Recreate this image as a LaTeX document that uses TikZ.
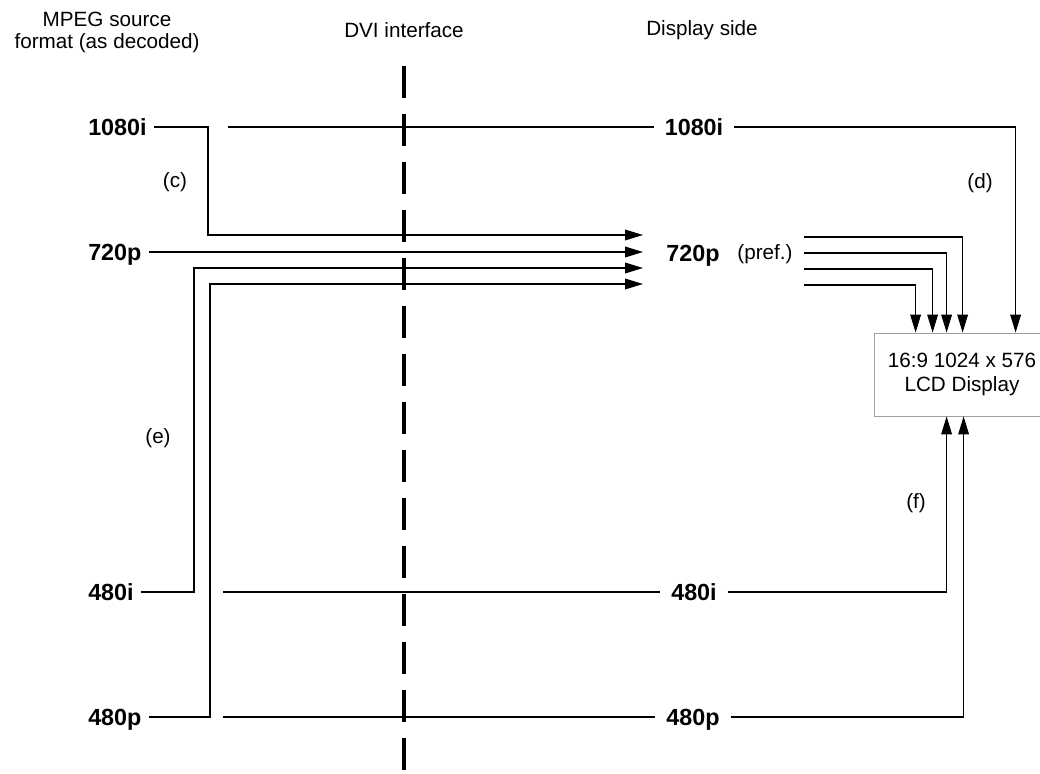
\documentclass[tikz,border=0pt]{standalone}
\usepackage{fontspec}
\setmainfont{Liberation Sans}
\usetikzlibrary{arrows.meta,calc}
\tikzset{
  conn/.style={line width=0.9pt},
  arr/.style={conn,-{Triangle[length=13.5pt,width=8pt]}},
  dvi/.style={line width=2.6pt,dash pattern=on 24pt off 12pt},
  fmt/.style={font=\fontsize{17.5}{18}\selectfont\bfseries,text height=12.6pt,text depth=0pt,inner ysep=0pt},
  srcfmt/.style={fmt,anchor=west,inner xsep=5.25pt},
  midfmt/.style={fmt,inner xsep=8pt},
  txt/.style={font=\fontsize{15.5}{16.5}\selectfont,align=center,inner sep=0pt},
  lcdbox/.style={draw=gray!75,line width=0.6pt,minimum width=132pt,minimum height=62.25pt,inner sep=0pt,align=center,font=\fontsize{15.5}{18}\selectfont}
}
\begin{document}
\begin{tikzpicture}[x=0.75pt,y=-0.75pt]
\useasboundingbox (0,0) rectangle (1040,774);
% titles
\node[txt] (tsrc) at (107,32) {MPEG source\\format (as decoded)};
\node[txt] (tdvi) at (404,30) {DVI interface};
\node[txt] (tdisp) at (702,30) {Display side};
% dashed DVI line
\coordinate (dtop) at (404,66);
\coordinate (dbot) at (404,790);
\draw[dvi] (dtop) -- (dbot);
% source labels
\node[srcfmt] (s1080) at (81,127) {1080i};
\node[srcfmt] (s720) at (81,252) {720p};
\node[srcfmt] (s480i) at (81,592) {480i};
\node[srcfmt] (s480p) at (81,717) {480p};
% display-side labels
\node[midfmt] (m1080) at (694,127) {1080i};
\node[midfmt] (m720) at (693,253) {720p};
\node[txt] (pref) at (765,254) {(pref.)};
\node[midfmt] (m480i) at (694,592) {480i};
\node[midfmt] (m480p) at (693,717) {480p};
% LCD
\node[lcdbox] (lcd) at (962,374.5) {16:9 1024 x 576\\LCD Display};
% tips and corners
\coordinate (t1) at (643,235);
\coordinate (t2) at (643,252);
\coordinate (t3) at (643,268);
\coordinate (t4) at (643,284);
\coordinate (c1) at (208,235);
\coordinate (c3) at (194,268);
\coordinate (c4) at (210,284);
% source connectors
\draw[arr] (s1080.east) -| (c1) -- (t1);
\draw[arr] (s720.east) -- (t2);
\draw[arr] (s480i.east) -| (c3) -- (t3);
\draw[arr] (s480p.east) -| (c4) -- (t4);
% straight-through lines
\coordinate (a1) at (228,127);
\coordinate (a3) at (223,592);
\coordinate (a4) at (223,717);
\draw[conn] (a1) -- (m1080.west);
\draw[conn] (a3) -- (m480i.west);
\draw[conn] (a4) -- (m480p.west);
% display side to LCD
\coordinate (p1) at (804,237);
\coordinate (p2) at (804,253);
\coordinate (p3) at (804,269);
\coordinate (p4) at (804,285);
\draw[arr] (p1) -| ($(lcd.north west)+(89,0)$);
\draw[arr] (p2) -| ($(lcd.north west)+(73,0)$);
\draw[arr] (p3) -| ($(lcd.north west)+(59,0)$);
\draw[arr] (p4) -| ($(lcd.north west)+(42,0)$);
\draw[arr] (m1080.east) -| ($(lcd.north west)+(142,0)$);
\draw[arr] (m480i.east) -| ($(lcd.south west)+(73,0)$);
\draw[arr] (m480p.east) -| ($(lcd.south west)+(90,0)$);
% labels
\node[txt] (lc) at (175,182) {(c)};
\node[txt] (ld) at (980,183) {(d)};
\node[txt] (le) at (158,438) {(e)};
\node[txt] (lf) at (916,503) {(f)};
\end{tikzpicture}
\end{document}
